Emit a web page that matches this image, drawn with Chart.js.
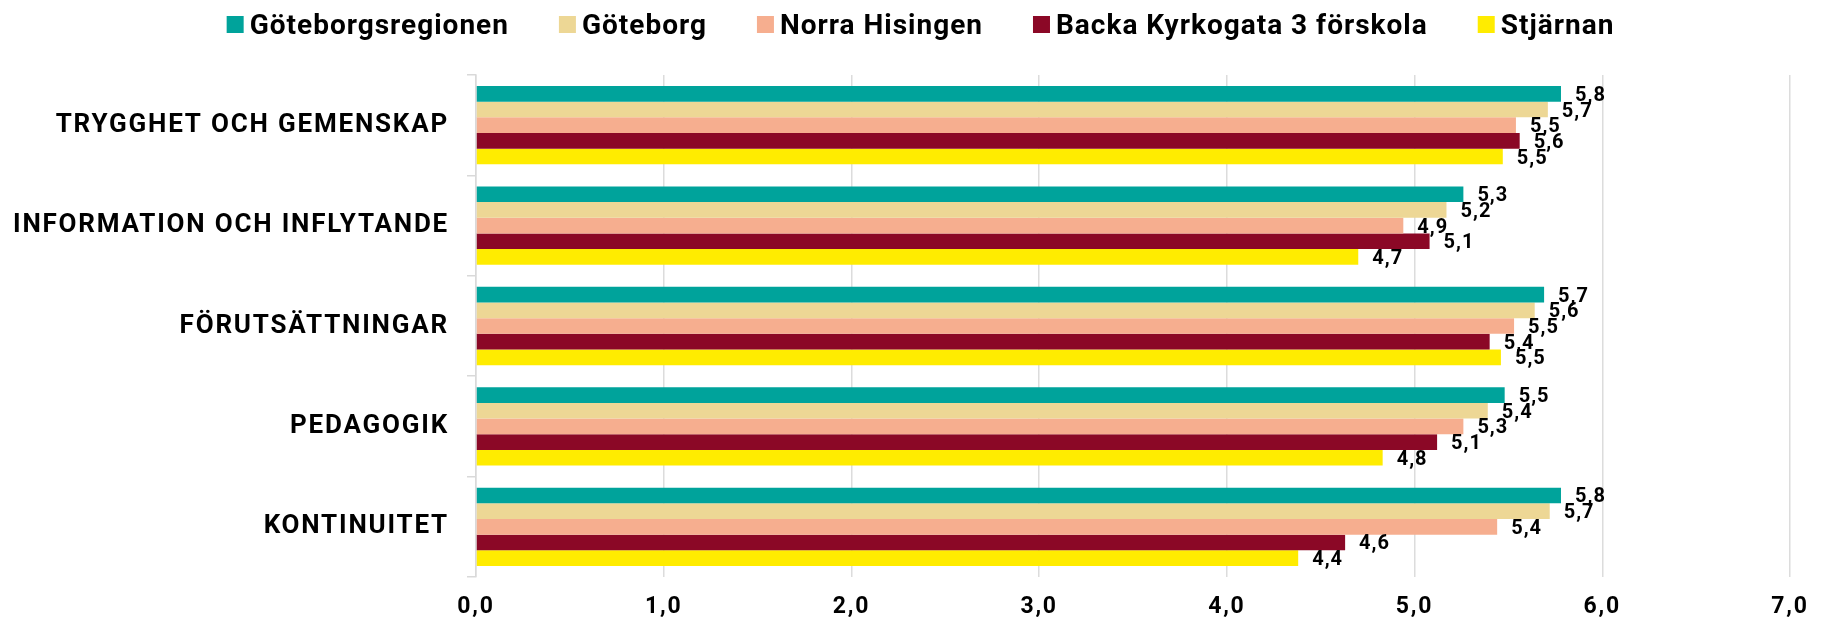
<!DOCTYPE html>
<html>
<head>
<meta charset="utf-8">
<script src="https://cdn.jsdelivr.net/npm/chart.js@4"></script>
<style>
  html, body { margin: 0; padding: 0; background: #fff; }
  #wrap { width: 1829px; height: 620px; }
</style>
</head>
<body>
<div id="wrap"><canvas id="chart"></canvas></div>
<script>
// Data
const categories = ['TRYGGHET OCH GEMENSKAP', 'INFORMATION OCH INFLYTANDE', 'FÖRUTSÄTTNINGAR', 'PEDAGOGIK', 'KONTINUITET'];
const seriesNames = ['Göteborgsregionen', 'Göteborg', 'Norra Hisingen', 'Backa Kyrkogata 3 förskola', 'Stjärnan'];
const goteborgsregionen = [5.78, 5.26, 5.69, 5.48, 5.78];
const goteborg = [5.71, 5.17, 5.64, 5.39, 5.72];
const norraHisingen = [5.54, 4.94, 5.53, 5.26, 5.44];
const backaKyrkogata = [5.56, 5.08, 5.40, 5.12, 4.63];
const stjarnan = [5.47, 4.70, 5.46, 4.83, 4.38];
const xTicks = [0, 1, 2, 3, 4, 5, 6, 7];

const colors = ['#00A39B', '#EDD795', '#F6AE8F', '#8B0826', '#FFEC00'];
const seriesValues = [goteborgsregionen, goteborg, norraHisingen, backaKyrkogata, stjarnan];

const fmt = v => v.toFixed(1).replace('.', ',');

// letter spacing for axis text
const spacing = {
  id: 'spacing',
  beforeDraw(chart) { chart.ctx.letterSpacing = '1.8px'; },
  afterDraw(chart) { chart.ctx.letterSpacing = '0px'; }
};

// value labels next to each bar
const valueLabels = {
  id: 'valueLabels',
  afterDatasetsDraw(chart) {
    const ctx = chart.ctx;
    ctx.save();
    ctx.font = 'bold 20px Roboto';
    ctx.letterSpacing = '1px';
    ctx.fillStyle = '#000';
    ctx.textBaseline = 'middle';
    ctx.textAlign = 'left';
    chart.data.datasets.forEach((ds, i) => {
      chart.getDatasetMeta(i).data.forEach((bar, j) => {
        ctx.fillText(fmt(ds.data[j]), bar.x + 14, bar.y + 2);
      });
    });
    ctx.restore();
  }
};

// legend on top
const topLegend = {
  id: 'topLegend',
  afterDraw(chart) {
    const ctx = chart.ctx;
    ctx.save();
    ctx.font = 'bold 28px Roboto';
    ctx.letterSpacing = '1px';
    const box = 17, gap = 6, space = 50;
    const items = chart.data.datasets.map(ds => ({
      text: ds.label, color: ds.backgroundColor, w: ctx.measureText(ds.label).width
    }));
    const total = items.reduce((s, it) => s + box + gap + it.w, 0) + space * (items.length - 1);
    let x = (chart.width - total) / 2 + 6;
    items.forEach(it => {
      ctx.fillStyle = it.color;
      ctx.fillRect(x, 16, box, box);
      x += box + gap;
      ctx.fillStyle = '#000';
      ctx.textBaseline = 'alphabetic';
      ctx.fillText(it.text, x, 34);
      x += it.w + space;
    });
    ctx.restore();
  }
};

new Chart(document.getElementById('chart'), {
  type: 'bar',
  data: {
    labels: categories,
    datasets: seriesNames.map((name, i) => ({
      label: name,
      data: seriesValues[i],
      backgroundColor: colors[i],
      borderWidth: 0,
      categoryPercentage: 0.78,
      barPercentage: 1.0
    }))
  },
  options: {
    indexAxis: 'y',
    responsive: true,
    maintainAspectRatio: false,
    animation: false,
    layout: { padding: { top: 75, right: 39, left: 0, bottom: 0 } },
    plugins: {
      legend: { display: false },
      tooltip: { enabled: false }
    },
    scales: {
      x: {
        min: 0, max: 7,
        afterBuildTicks: s => { s.ticks = xTicks.map(v => ({ value: v })); },
        afterFit: s => { s.height = 43; },
        grid: { color: '#dcdcdc', lineWidth: 1.5, drawTicks: false },
        border: { display: false },
        ticks: {
          padding: 16,
          color: '#000',
          font: { family: 'Roboto', size: 23, weight: 'bold' },
          callback: v => fmt(v)
        }
      },
      y: {
        afterFit: s => { s.width = 476; },
        grid: { drawOnChartArea: false, color: '#d9d9d9', tickLength: 9, lineWidth: 1.5 },
        border: { color: '#d9d9d9', width: 1.5 },
        ticks: {
          padding: 18,
          color: '#000',
          font: { family: 'Roboto', size: 26, weight: 'bold' }
        }
      }
    }
  },
  plugins: [spacing, valueLabels, topLegend]
});
</script>
</body>
</html>
